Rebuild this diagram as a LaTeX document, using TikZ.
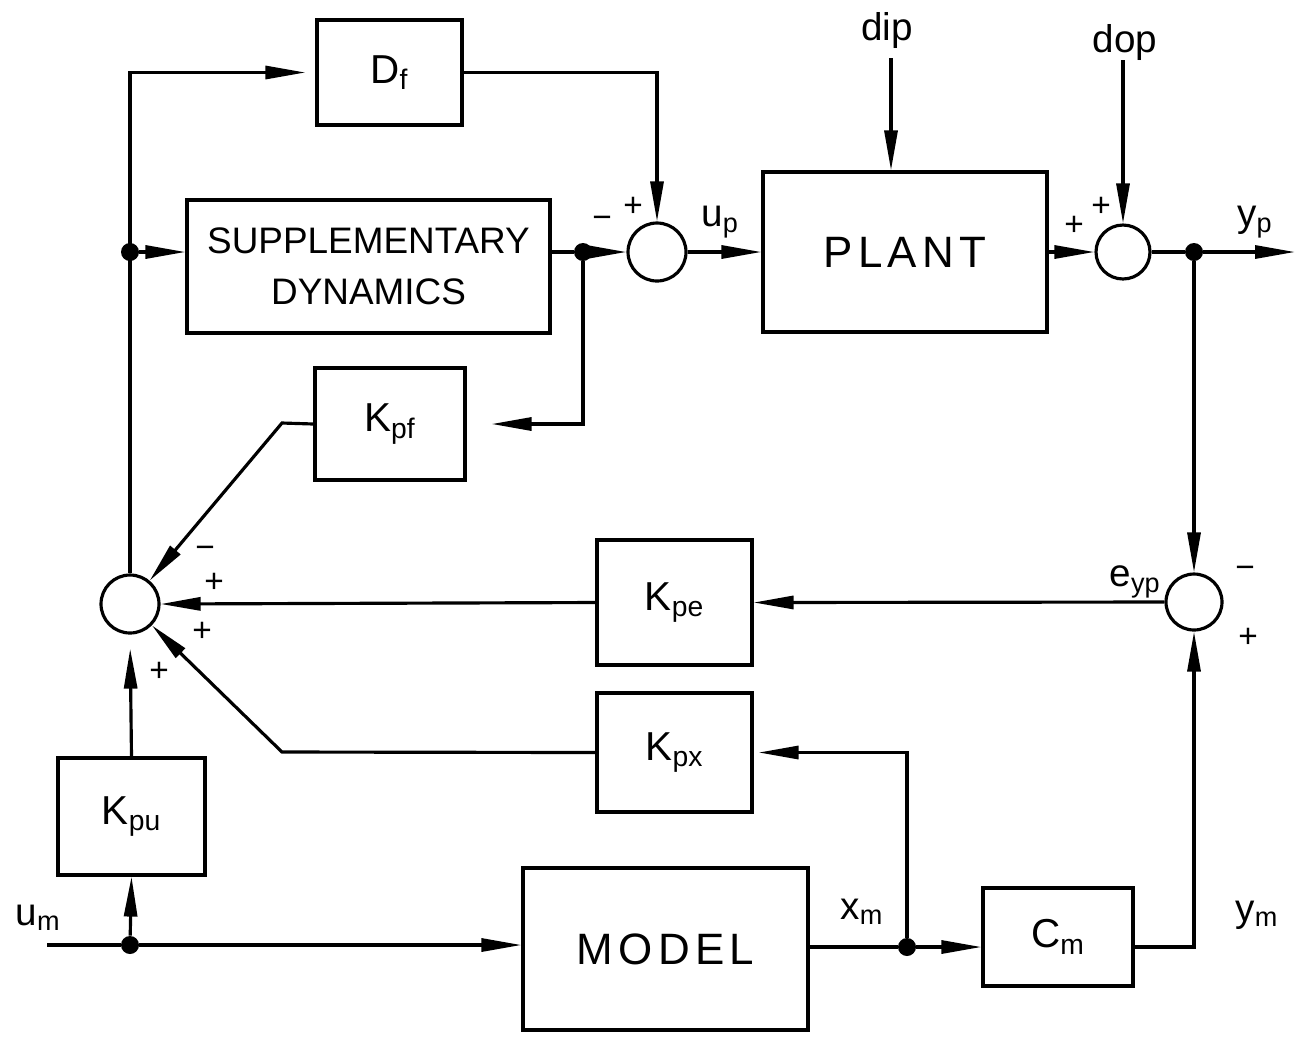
\documentclass[tikz,border=0pt]{standalone}
\usepackage{fontspec}
\setmainfont{Liberation Sans}
\newfontfamily\widefont[LetterSpace=12]{Liberation Sans}
\usetikzlibrary{arrows.meta,calc}
\begin{document}
\begin{tikzpicture}[x=0.02cm,y=-0.02cm,
  ln/.style={line width=1.8pt},
  blk/.style={draw, line width=1.8pt, inner sep=0pt, font=\fontsize{23}{27}\selectfont},
  sumc/.style={draw, circle, line width=1.8pt, minimum size=1.16cm, inner sep=0pt},
  dotn/.style={circle, fill, minimum size=0.36cm, inner sep=0pt},
  lbl/.style={font=\fontsize{22}{26}\selectfont, inner sep=0pt},
  sgn/.style={font=\fontsize{19}{21}\selectfont, inner sep=0pt},
  ar/.style={ln, -{Triangle[length=0.8cm, width=0.26cm]}}]
\useasboundingbox (0,0) rectangle (1297,1036);

% blocks
\node[blk, minimum width=2.9cm, minimum height=2.1cm] (df) at (389.5,72.5) {D\textsubscript{f}};
\node[blk, minimum width=7.26cm, minimum height=2.66cm, align=center, font=\fontsize{21}{25}\selectfont] (sd) at (368.5,266.5) {SUPPLEMENTARY\\[4pt]DYNAMICS};
\node[blk, minimum width=5.68cm, minimum height=3.2cm] (plant) at (905,252) {\widefont\fontsize{25}{29}\selectfont PLANT};
\node[blk, minimum width=3.0cm, minimum height=2.24cm] (kpf) at (390,424) {K\textsubscript{pf}};
\node[blk, minimum width=3.1cm, minimum height=2.5cm] (kpe) at (674.5,602.5) {K\textsubscript{pe}};
\node[blk, minimum width=3.1cm, minimum height=2.38cm] (kpx) at (674.5,752.5) {K\textsubscript{px}};
\node[blk, minimum width=2.94cm, minimum height=2.34cm] (kpu) at (131.5,816.5) {K\textsubscript{pu}};
\node[blk, minimum width=5.7cm, minimum height=3.24cm] (model) at (665.5,949) {\widefont\fontsize{25}{29}\selectfont MODEL};
\node[blk, minimum width=3.0cm, minimum height=1.96cm] (cm) at (1058,937) {C\textsubscript{m}};

% summing junctions
\node[sumc] (s1) at (657,252) {};
\node[sumc, minimum size=1.08cm] (s2) at (1123,252) {};
\node[sumc, minimum size=1.12cm] (s3) at (1194,602) {};
\node[sumc] (s4) at (130,604) {};

% branch dots
\node[dotn] (dA) at (130,252) {};
\node[dotn] (dB) at (583,252) {};
\node[dotn] (dC) at (1194,252) {};
\node[dotn] (dD) at (907,947) {};
\node[dotn] (dE) at (130,945) {};

% free ends and bends
\coordinate (dipc) at (891,58);
\coordinate (dopc) at (1123,60);
\coordinate (yout) at (1295,252);
\coordinate (umc) at (47,945);
\coordinate (bendA) at (282,423);
\coordinate (bendB) at (282,752);

% connectors
\draw[ar, shorten >=0.2cm] (s4.north) |- (df.west);
\draw[ar] (dA) -- (sd.west |- dA);
\draw[ar] (df.east) -| (s1.north);
\draw[ln] (sd.east |- dB) -- (dB);
\draw[ar] (dB) -- (s1.west);
\draw[ar] (s1.east) -- (plant.west |- s1.east);
\draw[ar] (dipc) -- (dipc |- plant.north);
\draw[ar] (dopc) -- (s2.north);
\draw[ar] (plant.east |- s2.west) -- (s2.west);
\draw[ln] (s2.east) -- (dC);
\draw[ar] (dC) -- (yout);
\draw[ar] (dC) -- (s3.north);
\draw[ar] (s3.west) -- (kpe.east);
\draw[ar] (kpe.west) -- (s4.east);
\draw[ar, shorten >=0.5cm] (dB) |- (kpf.east);
\draw[ar] (kpf.west) -- (bendA) -- (s4);
\draw[ar, shorten >=0.1cm] (dD) |- (kpx.east);
\draw[ar] (kpx.west) -- (bendB) -- (s4);
\draw[ar, shorten >=0.28cm] (kpu.north) -- (s4.south);
\draw[ln] (umc) -- (dE);
\draw[ar] (dE) -- (model.west |- dE);
\draw[ar] (dE) -- (kpu.south);
\draw[ln] (model.east |- dD) -- (dD);
\draw[ar] (dD) -- (cm.west |- dD);
\draw[ar] (cm.east |- dD) -| (s3.south);

% signal labels
\node[lbl] (ldip) at (887,30) {dip};
\node[lbl] (ldop) at (1125,42) {dop};
\node[lbl] (lup) at (720,222) {u\textsubscript{p}};
\node[lbl] (lyp) at (1255,222) {y\textsubscript{p}};
\node[lbl] (leyp) at (1135,582) {e\textsubscript{yp}};
\node[lbl] (lxm) at (862,912) {x\textsubscript{m}};
\node[lbl] (lym) at (1257,915) {y\textsubscript{m}};
\node[lbl] (lum) at (38,918) {u\textsubscript{m}};

% signs
\node[sgn] (g1) at (602,222) {−};
\node[sgn] (g2) at (633,207) {+};
\node[sgn] (g3) at (1074,226) {+};
\node[sgn] (g4) at (1101,207) {+};
\node[sgn] (g5) at (1245,572) {−};
\node[sgn] (g6) at (1248,638) {+};
\node[sgn] (g7) at (205,552) {−};
\node[sgn] (g8) at (214,583) {+};
\node[sgn] (g9) at (202,632) {+};
\node[sgn] (g10) at (159,672) {+};
\end{tikzpicture}
\end{document}
